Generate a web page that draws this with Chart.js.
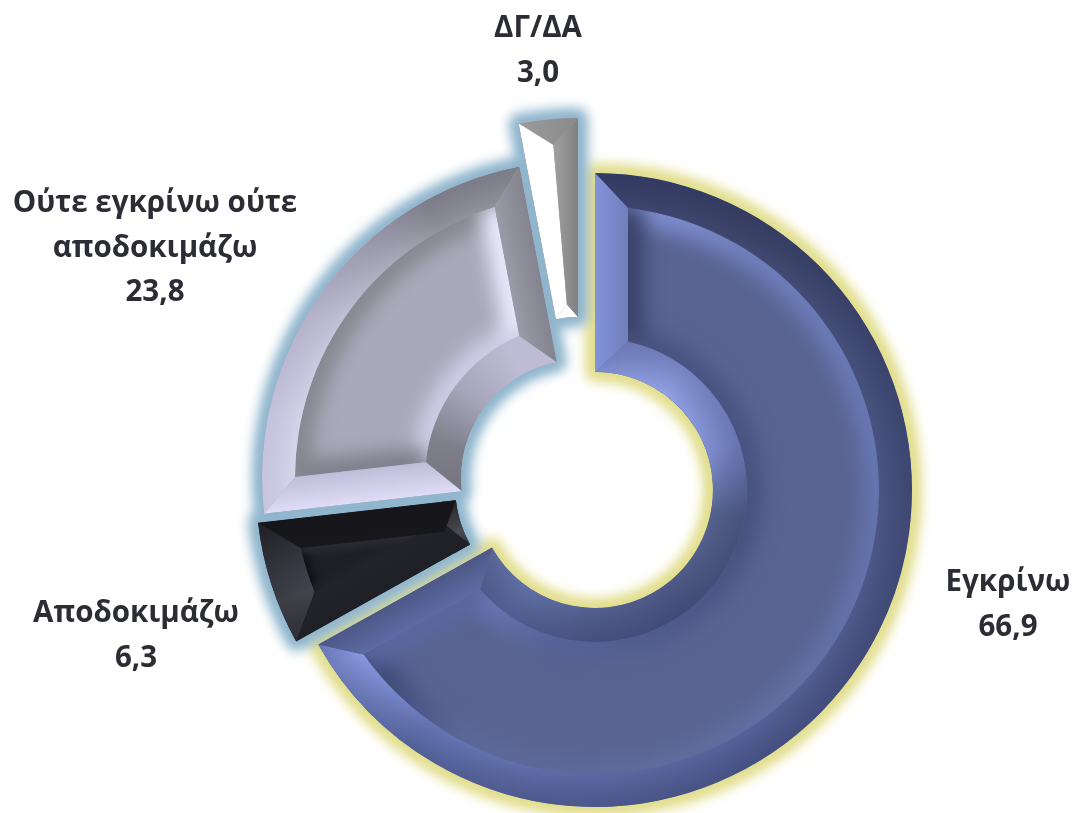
<!DOCTYPE html>
<html lang="el">
<head>
<meta charset="utf-8">
<title>Έγκριση</title>
<style>
html,body{margin:0;padding:0;background:#fff}
#wrap{position:relative;width:1072px;height:813px;overflow:hidden}
</style>
<script src="https://cdn.jsdelivr.net/npm/chart.js@4"></script>
</head>
<body>
<div id="wrap"><canvas id="c" width="1072" height="813"></canvas></div>
<script>
const categories = ['Εγκρίνω', 'Αποδοκιμάζω', 'Ούτε εγκρίνω ούτε αποδοκιμάζω', 'ΔΓ/ΔΑ'];
const values = [66.9, 6.3, 23.8, 3.0];
const valueLabels = ['66,9', '6,3', '23,8', '3,0'];
const categoryLines = [['Εγκρίνω'], ['Αποδοκιμάζω'], ['Ούτε εγκρίνω ούτε', 'αποδοκιμάζω'], ['ΔΓ/ΔΑ']];

const labelAnchors = [[1008, 583], [136, 614], [155, 204], [538, 29]];
const LINE_GAP = 44.5;
const explodeShift = [[0, 0], [-22, -3], [-16, -12], [-17, -55]];
const baseColors = ['#596492', '#1f1f27', '#a9a9ba', '#a0a0a0'];
const glowColors = ['#e2de8e', '#8fb5cd', '#8fb5cd', '#8fb5cd'];

const looks = [
  { wo: 33, wi: 34, ws: 33, we: 31,
    outer: [[0,'#3c4470'],[.08,'#3f476e'],[.2,'#485280'],[.3,'#4d5888'],[.42,'#55619a'],[.52,'#5e6ba6'],[.6,'#6676b6'],[.655,'#8a9ae4'],[.67,'#8292dc']],
    inner: [[0,'#7a89cb'],[.1,'#92a1e6'],[.2,'#7f8ed2'],[.28,'#56628f'],[.4,'#4e5988'],[.5,'#535f90'],[.6,'#6170a8'],[.67,'#5a6698']],
    start: ['#8494da', '#6f7ebc'], end: ['#4d5887', '#5e6ba4'],
    edges: {
      outer: [[0,'#8797dc'],[.1,'#6f7fbc'],[.25,'#6575b0'],[.45,'#5f6c9c'],[.58,'#5c6898'],[.63,'#3f4a78'],[.67,'#3a4572']],
      inner: [[0,'#4a5482'],[.3,'#47517f'],[.55,'#56639a'],[.67,'#7887c8']],
      start: '#3a4268', end: '#5a67a0' }, soft: 16,
    rim: ['rgba(0,0,0,0)', 'rgba(15,20,50,.22)'],
    hole: ['rgba(0,0,0,0)', 'rgba(20,25,60,.22)'] },
  { wo: 38, wi: 18, ws: 34, we: 30,
    outer: [[.66,'#2a2a32'],[.69,'#44444e'],[.705,'#3a3a44'],[.74,'#1d1d23']],
    inner: [[.66,'#25252b'],[.69,'#4a4a52'],[.74,'#1c1c20']],
    start: ['#1f1f26', '#23232b'], end: ['#16161a', '#18181c'],
    edges: { outer: '#111115', inner: '#17171b', start: '#22222a', end: '#2a2a33' }, soft: 6,
    rim: ['rgba(0,0,0,0)', 'rgba(0,0,0,.1)'] },
  { wo: 33, wi: 36, ws: 33, we: 32,
    outer: [[.72,'#d4d2ec'],[.78,'#d0cee8'],[.84,'#bcbad2'],[.89,'#9d9cae'],[.92,'#82828e']],
    inner: [[.73,'#74747f'],[.79,'#7f7f8c'],[.85,'#a5a4b8'],[.92,'#bebcd4']],
    start: ['#dedcf6', '#bfbdd8'], end: ['#84848f', '#9a9aa8'],
    edges: { outer: '#86868f', inner: '#d0cee8', start: '#7d7d8a', end: '#ecebff' }, soft: 15,
    rim: ['rgba(255,255,255,.12)', 'rgba(60,60,80,.08)'] },
  { wo: 26, wi: 13, frac: .55,
    outer: [[.92,'#b0b0b0'],[.96,'#a0a0a0'],[1,'#8a8a8a']],
    inner: [[.9,'#ffffff'],[1,'#ffffff']],
    start: ['#ffffff', '#ffffff'], end: ['#808080', '#a4a4a4'],
    edges: null, soft: 0, rim: null }
];

function geom(el, look) {
  const p = el.getProps(['x','y','startAngle','endAngle','innerRadius','outerRadius']);
  const cx = p.x, cy = p.y;
  const a0 = p.startAngle, a1 = p.endAngle, ro = p.outerRadius, ri = p.innerRadius;
  const Ro = ro - look.wo, Ri = ri + look.wi;
  let aos, aoe, ais, aie;
  if (look.frac) {
    aos = aoe = ais = aie = a0 + look.frac * (a1 - a0);
  } else {
    aos = a0 + Math.asin(look.ws / Ro); aoe = a1 - Math.asin(look.we / Ro);
    ais = a0 + Math.asin(look.ws / Ri); aie = a1 - Math.asin(look.we / Ri);
  }
  const pt = (r, a) => [cx + Math.cos(a) * r, cy + Math.sin(a) * r];
  return { cx, cy, a0, a1, ro, ri, Ro, Ri, aos, aoe, ais, aie, pt };
}
function ringPath(ctx, g) {
  ctx.beginPath();
  ctx.arc(g.cx, g.cy, g.ro, g.a0, g.a1);
  ctx.arc(g.cx, g.cy, g.ri, g.a1, g.a0, true);
  ctx.closePath();
}
function conic(ctx, g, stops) {
  if (typeof stops === 'string') return stops;
  const c = ctx.createConicGradient(-Math.PI / 2, g.cx, g.cy);
  stops.forEach(s => c.addColorStop(s[0], s[1]));
  return c;
}
function sideFill(ctx, g, edgeA, dir, width, cols) {
  const a = g.pt(g.ro, edgeA), n = edgeA + dir * Math.PI / 2;
  const l = ctx.createLinearGradient(a[0], a[1], a[0] + Math.cos(n) * width, a[1] + Math.sin(n) * width);
  l.addColorStop(0, cols[0]); l.addColorStop(1, cols[1]);
  return l;
}
function polygon(ctx, pts) {
  ctx.beginPath();
  pts.forEach((q, i) => i ? ctx.lineTo(q[0], q[1]) : ctx.moveTo(q[0], q[1]));
  ctx.closePath();
}
function drawFacets(ctx, el, look) {
  const g = geom(el, look), pt = g.pt;
  ctx.save();
  ringPath(ctx, g); ctx.clip();

  if (look.edges) {
    ctx.save();
    ctx.beginPath();
    ctx.arc(g.cx, g.cy, g.Ro, g.aos, g.aoe);
    ctx.arc(g.cx, g.cy, g.Ri, g.aie, g.ais, true);
    ctx.closePath(); ctx.clip();
    ctx.filter = 'blur(' + (look.soft / 1.6) + 'px)';
    ctx.lineWidth = look.soft * 2;
    const e = look.edges;
    ctx.strokeStyle = conic(ctx, g, e.outer); ctx.beginPath(); ctx.arc(g.cx, g.cy, g.Ro, g.aos, g.aoe); ctx.stroke();
    ctx.strokeStyle = conic(ctx, g, e.inner); ctx.beginPath(); ctx.arc(g.cx, g.cy, g.Ri, g.ais, g.aie); ctx.stroke();
    ctx.strokeStyle = e.start; polygon(ctx, [pt(g.Ro, g.aos), pt(g.Ri, g.ais)]); ctx.stroke();
    ctx.strokeStyle = e.end; polygon(ctx, [pt(g.Ro, g.aoe), pt(g.Ri, g.aie)]); ctx.stroke();
    ctx.restore();
  }

  ctx.beginPath();
  ctx.arc(g.cx, g.cy, g.ro, g.a0, g.a1);
  ctx.arc(g.cx, g.cy, g.Ro, g.aoe, g.aos, true);
  ctx.closePath();
  ctx.fillStyle = conic(ctx, g, look.outer); ctx.fill();
  if (look.rim) {
    const r = ctx.createRadialGradient(g.cx, g.cy, g.Ro, g.cx, g.cy, g.ro);
    r.addColorStop(0, look.rim[0]); r.addColorStop(1, look.rim[1]);
    ctx.fillStyle = r; ctx.fill();
  }
  ctx.beginPath();
  ctx.arc(g.cx, g.cy, g.ri, g.a0, g.a1);
  ctx.arc(g.cx, g.cy, g.Ri, g.aie, g.ais, true);
  ctx.closePath();
  ctx.fillStyle = conic(ctx, g, look.inner); ctx.fill();
  if (look.hole) {
    const r = ctx.createRadialGradient(g.cx, g.cy, g.ri, g.cx, g.cy, g.Ri);
    r.addColorStop(0, look.hole[0]); r.addColorStop(1, look.hole[1]);
    ctx.fillStyle = r; ctx.fill();
  }
  const w = look.frac ? (g.a1 - g.a0) * g.ro * look.frac : look.ws;
  polygon(ctx, [pt(g.ro, g.a0), pt(g.Ro, g.aos), pt(g.Ri, g.ais), pt(g.ri, g.a0)]);
  ctx.fillStyle = sideFill(ctx, g, g.a0, 1, w, look.start); ctx.fill();
  const w2 = look.frac ? (g.a1 - g.a0) * g.ro * (1 - look.frac) : look.we;
  polygon(ctx, [pt(g.ro, g.a1), pt(g.Ro, g.aoe), pt(g.Ri, g.aie), pt(g.ri, g.a1)]);
  ctx.fillStyle = sideFill(ctx, g, g.a1, -1, w2, look.end); ctx.fill();
  ctx.restore();
}

const bevelPlugin = {
  id: 'bevel',
  afterDatasetUpdate(chart) {
    chart.getDatasetMeta(0).data.forEach((el, i) => { el.x += explodeShift[i][0]; el.y += explodeShift[i][1]; });
  },
  beforeDatasetsDraw(chart) {
    const ctx = chart.ctx;
    chart.getDatasetMeta(0).data.forEach((el, i) => {
      const g = geom(el, looks[i]);
      ctx.save();
      ctx.filter = 'blur(6px)';
      ctx.fillStyle = glowColors[i];
      ctx.strokeStyle = glowColors[i];
      ctx.lineWidth = 20;
      ctx.lineJoin = 'round';
      ringPath(ctx, g);
      ctx.stroke(); ctx.fill();
      ctx.restore();
    });
  },
  afterDatasetsDraw(chart) {
    chart.getDatasetMeta(0).data.forEach((el, i) => drawFacets(chart.ctx, el, looks[i]));
    const ctx = chart.ctx;
    ctx.save();
    ctx.font = 'bold 29.5px "Open Sans"';
    ctx.fillStyle = '#2b2c34';
    ctx.textAlign = 'center';
    ctx.textBaseline = 'middle';
    categories.forEach((_, i) => {
      const lines = categoryLines[i].concat(valueLabels[i]);
      lines.forEach((t, k) => ctx.fillText(t, labelAnchors[i][0], labelAnchors[i][1] + k * LINE_GAP));
    });
    ctx.restore();
  }
};

new Chart(document.getElementById('c'), {
  type: 'doughnut',
  data: {
    labels: categories,
    datasets: [{
      data: values,
      backgroundColor: baseColors,
      borderWidth: 0,
      clip: false
    }]
  },
  options: {
    responsive: false,
    animation: false,
    radius: 317,
    cutout: '37.2%',
    layout: { padding: { left: 118, top: 167 } },
    plugins: { legend: { display: false }, tooltip: { enabled: false } }
  },
  plugins: [bevelPlugin]
});
</script>
</body>
</html>
